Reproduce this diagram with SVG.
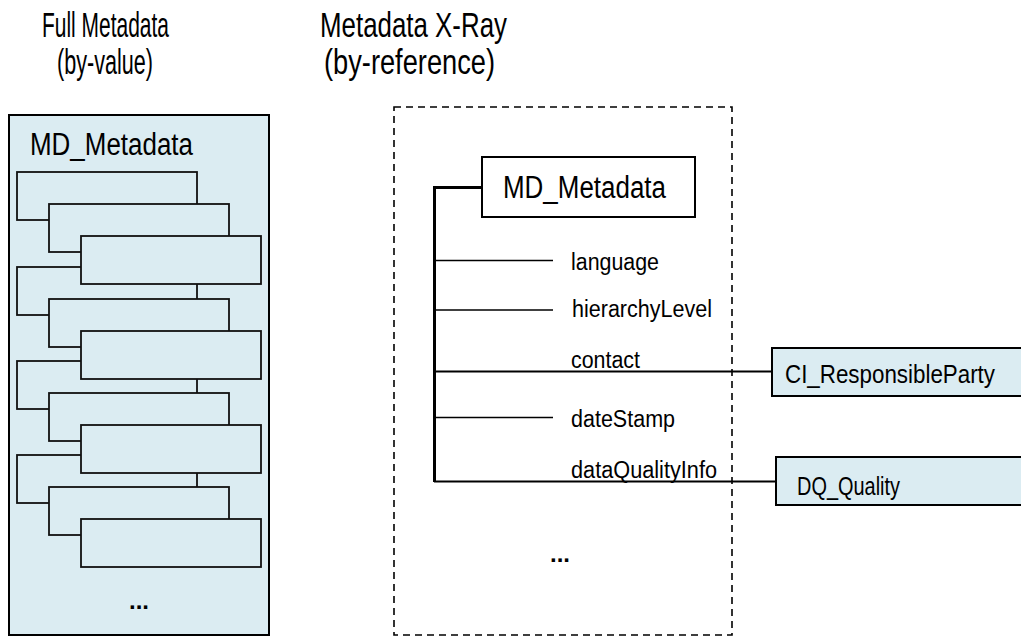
<svg xmlns="http://www.w3.org/2000/svg" width="1021" height="637" viewBox="0 0 1021 637">
  <style>
    text { font-family: "Liberation Sans", Arial, sans-serif; fill: #000; }
    .title { font-size: 35px; }
    .cls { font-size: 31px; }
    .role { font-size: 23.5px; }
    .ref { font-size: 25px; }
    .dots { font-size: 24px; font-weight: bold; }
    .blue { fill: #DBECF2; stroke: #000; stroke-width: 2; }
    .elem { fill: #DBECF2; stroke: #111; stroke-width: 1.8; }
    .white { fill: #fff; stroke: #000; stroke-width: 2; }
    .frame { fill: none; stroke: #000; stroke-width: 1.6; stroke-dasharray: 7 5; }
    .trunk { fill: none; stroke: #000; stroke-width: 3; }
    .branch { fill: none; stroke: #000; stroke-width: 1.5; }
    .link { fill: none; stroke: #000; stroke-width: 2; }
  </style>

  <!-- column headings -->
  <g id="headings">
    <text class="title" x="42" y="37" textLength="127" lengthAdjust="spacingAndGlyphs">Full Metadata</text>
    <text class="title" x="57" y="74" textLength="96" lengthAdjust="spacingAndGlyphs">(by-value)</text>
    <text class="title" x="320" y="37" textLength="187" lengthAdjust="spacingAndGlyphs">Metadata X-Ray</text>
    <text class="title" x="324" y="74" textLength="171" lengthAdjust="spacingAndGlyphs">(by-reference)</text>
  </g>

  <!-- by-value document: nested element boxes -->
  <g id="full-metadata">
    <rect class="blue" x="9" y="115" width="260" height="520"/>
    <text class="cls" x="30" y="155" textLength="163" lengthAdjust="spacingAndGlyphs">MD_Metadata</text>
    <!-- level 1 boxes -->
    <rect class="elem" x="17" y="172" width="180" height="48"/>
    <rect class="elem" x="17" y="267" width="180" height="48"/>
    <rect class="elem" x="17" y="361" width="180" height="48"/>
    <rect class="elem" x="17" y="455" width="180" height="48"/>
    <!-- level 2 boxes -->
    <rect class="elem" x="49" y="204" width="180" height="48"/>
    <rect class="elem" x="49" y="299" width="180" height="48"/>
    <rect class="elem" x="49" y="393" width="180" height="48"/>
    <rect class="elem" x="49" y="487" width="180" height="48"/>
    <!-- level 3 boxes -->
    <rect class="elem" x="81" y="236" width="180" height="48"/>
    <rect class="elem" x="81" y="331" width="180" height="48"/>
    <rect class="elem" x="81" y="425" width="180" height="48"/>
    <rect class="elem" x="81" y="519" width="180" height="48"/>
    <text class="dots" x="139" y="609" text-anchor="middle">...</text>
  </g>

  <!-- by-reference document frame -->
  <g id="xray-frame">
    <rect class="frame" x="394" y="107" width="338" height="528"/>
    <text class="dots" x="560" y="562" text-anchor="middle">...</text>
  </g>

  <g id="md-metadata">
    <rect class="white" x="482" y="157" width="213" height="60"/>
    <text class="cls" x="503" y="198" textLength="163" lengthAdjust="spacingAndGlyphs">MD_Metadata</text>
  </g>

  <g id="ci-responsibleparty">
    <rect class="blue" x="772" y="348" width="252" height="48"/>
    <text class="ref" x="785" y="383" textLength="210" lengthAdjust="spacingAndGlyphs">CI_ResponsibleParty</text>
  </g>

  <g id="dq-quality">
    <rect class="blue" x="776" y="457" width="248" height="48"/>
    <text class="ref" x="797" y="495" textLength="103" lengthAdjust="spacingAndGlyphs">DQ_Quality</text>
  </g>

  <!-- property connectors -->
  <g id="connectors">
    <path class="trunk" d="M482,187.5 H434.5 V482"/>
    <line class="branch" x1="434" y1="260.5" x2="553" y2="260.5"/>
    <line class="branch" x1="434" y1="310" x2="553" y2="310"/>
    <line class="link" x1="434" y1="371.5" x2="772" y2="371.5"/>
    <line class="branch" x1="434" y1="417.5" x2="553" y2="417.5"/>
    <line class="link" x1="434" y1="481.5" x2="776" y2="481.5"/>
  </g>

  <!-- property names -->
  <g id="properties">
    <text class="role" x="571" y="270" textLength="88" lengthAdjust="spacingAndGlyphs">language</text>
    <text class="role" x="572" y="317" textLength="140" lengthAdjust="spacingAndGlyphs">hierarchyLevel</text>
    <text class="role" x="571" y="368" textLength="69" lengthAdjust="spacingAndGlyphs">contact</text>
    <text class="role" x="571" y="427" textLength="104" lengthAdjust="spacingAndGlyphs">dateStamp</text>
    <text class="role" x="571" y="478" textLength="146" lengthAdjust="spacingAndGlyphs">dataQualityInfo</text>
  </g>
</svg>
